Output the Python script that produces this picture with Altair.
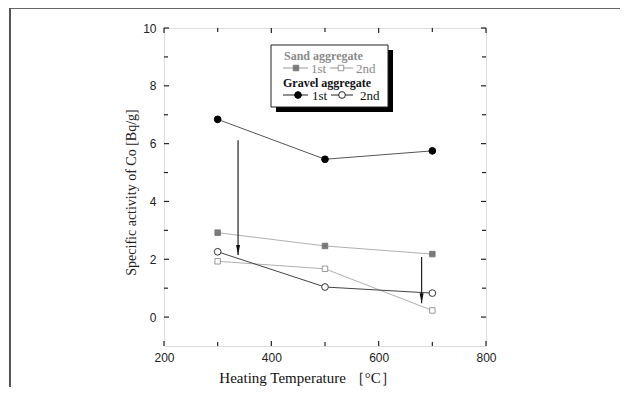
import altair as alt
import pandas as pd

# ---- data ----
temps = [300, 500, 700]
sand_1st = [2.92, 2.46, 2.18]
sand_2nd = [1.93, 1.67, 0.23]
gravel_1st = [6.84, 5.46, 5.75]
gravel_2nd = [2.26, 1.04, 0.83]

arrow_x = [338, 680]
arrow_top = [6.12, 2.08]
arrow_tip = [2.15, 0.48]

x_major = [200, 400, 600, 800]
x_minor = [300, 500, 700]
y_major = [0, 2, 4, 6, 8, 10]
y_minor = [1, 3, 5, 7, 9]

W, H = 322, 318
SERIF = "Liberation Serif"
SANS = "Liberation Sans"

xs = alt.Scale(domain=[200, 800], nice=False, zero=False)
ys = alt.Scale(domain=[-1, 10], nice=False, zero=False)


def series_df(vals):
    return pd.DataFrame({"t": temps, "v": vals})


def line_layer(vals, color):
    return alt.Chart(series_df(vals)).mark_line(color=color, strokeWidth=1).encode(
        x=alt.X("t:Q", scale=xs), y=alt.Y("v:Q", scale=ys))


def pt_layer(vals, shape, size, fill, stroke, filled):
    return alt.Chart(series_df(vals)).mark_point(
        shape=shape, size=size, filled=filled, fill=fill, stroke=stroke,
        strokeWidth=1, opacity=1).encode(
        x=alt.X("t:Q", scale=xs), y=alt.Y("v:Q", scale=ys))


# base with axes
base = alt.Chart(series_df(gravel_1st)).mark_point(opacity=0).encode(
    x=alt.X("t:Q", scale=xs, axis=alt.Axis(
        values=x_major, ticks=False, domain=False, grid=False, labelPadding=6,
        labelFlush=False,
        labelFont=SANS, labelFontSize=12, labelColor="#222",
        title="Heating Temperature ［°C］", titleFont=SERIF, titleFontSize=15,
        titleFontWeight="normal", titleColor="#111", titleX=143, titleY=36,
        titleBaseline="alphabetic", titleAlign="center")),
    y=alt.Y("v:Q", scale=ys, axis=alt.Axis(
        values=y_major, ticks=False, domain=False, grid=False, labelPadding=8,
        labelFlush=False,
        labelFont=SANS, labelFontSize=12, labelColor="#222",
        title="Specific activity of Co [Bq/g]", titleFont=SERIF, titleFontSize=14,
        titleFontWeight="normal", titleColor="#222", titleX=-29, titleY=164,
        titleBaseline="alphabetic", titleAlign="center", titleAngle=-90)),
)

# inward ticks
def xticks(vals, length):
    d = pd.DataFrame({"t": vals})
    b = alt.Chart(d).mark_rule(color="#222", strokeWidth=1.2).encode(
        x=alt.X("t:Q", scale=xs), y=alt.value(H), y2=alt.value(H - length))
    tp = alt.Chart(d).mark_rule(color="#222", strokeWidth=1.2).encode(
        x=alt.X("t:Q", scale=xs), y=alt.value(0), y2=alt.value(length))
    return b + tp


def yticks(vals, length):
    d = pd.DataFrame({"v": vals})
    l = alt.Chart(d).mark_rule(color="#222", strokeWidth=1.2).encode(
        y=alt.Y("v:Q", scale=ys), x=alt.value(0), x2=alt.value(length))
    r = alt.Chart(d).mark_rule(color="#222", strokeWidth=1.2).encode(
        y=alt.Y("v:Q", scale=ys), x=alt.value(W), x2=alt.value(W - length))
    return l + r


ticks = xticks(x_major, 5) + xticks(x_minor, 4) + yticks(y_major, 5) + yticks(y_minor, 4)

# series
lines = (line_layer(sand_1st, "#b0b0b0") + line_layer(sand_2nd, "#b0b0b0")
         + line_layer(gravel_1st, "#555555") + line_layer(gravel_2nd, "#444444"))
points = (pt_layer(sand_1st, "square", 30, "#7a7a7a", "#7a7a7a", True)
          + pt_layer(sand_2nd, "square", 30, "white", "#999999", False)
          + pt_layer(gravel_1st, "circle", 45, "black", "black", True)
          + pt_layer(gravel_2nd, "circle", 45, "white", "#333333", False))

# arrows
adf = pd.DataFrame({"x": arrow_x, "y1": arrow_top, "y2": arrow_tip})
shaft = alt.Chart(adf).mark_rule(color="#222", strokeWidth=1.2).encode(
    x=alt.X("x:Q", scale=xs), y=alt.Y("y1:Q", scale=ys), y2="y2:Q")
head = alt.Chart(adf).mark_point(
    shape="M-0.4,-1L0.4,-1L0,1Z", size=100, filled=True, color="#111", opacity=1,
    yOffset=-5).encode(x=alt.X("x:Q", scale=xs), y=alt.Y("y2:Q", scale=ys))

# outer frame lines (decoration)
frame_top = alt.Chart().mark_rule(color="#333", strokeWidth=1.5).encode(
    x=alt.value(-154), x2=alt.value(W + 150), y=alt.value(-20))
frame_left = alt.Chart().mark_rule(color="#555", strokeWidth=2).encode(
    x=alt.value(-154), y=alt.value(-20), y2=alt.value(H + 45))

# legend (decoration)
shadow = alt.Chart().mark_rect(color="black").encode(
    x=alt.value(112), x2=alt.value(229), y=alt.value(22), y2=alt.value(84))
box = alt.Chart().mark_rect(fill="white", stroke="#222", strokeWidth=1).encode(
    x=alt.value(107), x2=alt.value(224), y=alt.value(17), y2=alt.value(79))


def ltext(txt, x, y, color, bold, size=12):
    return alt.Chart().mark_text(text=txt, align="left", baseline="middle",
                                 font=SERIF, fontSize=size,
                                 fontWeight="bold" if bold else "normal",
                                 color=color).encode(x=alt.value(x), y=alt.value(y))


def lline(x1, x2, y, color):
    return alt.Chart().mark_rule(color=color, strokeWidth=1).encode(
        x=alt.value(x1), x2=alt.value(x2), y=alt.value(y))


def lpt(x, y, shape, size, fill, stroke, filled):
    return alt.Chart().mark_point(shape=shape, size=size, filled=filled, fill=fill,
                                  stroke=stroke, opacity=1, strokeWidth=1).encode(
        x=alt.value(x), y=alt.value(y))


legend = (shadow + box
          + ltext("Sand aggregate", 120, 28, "#8a8a8a", True)
          + lline(119, 144, 40, "#999") + lpt(132, 40, "square", 30, "#7a7a7a", "#7a7a7a", True)
          + ltext("1st", 147, 41, "#8a8a8a", False, 13)
          + lline(166, 189, 40, "#999") + lpt(177, 40, "square", 30, "white", "#999", False)
          + ltext("2nd", 192, 41, "#8a8a8a", False, 13)
          + ltext("Gravel aggregate", 119, 55, "#111", True)
          + lline(119, 144, 67, "#222") + lpt(134, 67, "circle", 45, "black", "black", True)
          + ltext("1st", 148, 68, "#111", False, 13)
          + lline(167, 189, 67, "#222") + lpt(178, 67, "circle", 45, "white", "#222", False)
          + ltext("2nd", 196, 68, "#111", False, 13))

chart = alt.layer(base, frame_top, frame_left, ticks, lines, points, shaft, head, legend).properties(
    width=W, height=H,
    autosize=alt.AutoSizeParams(type="none"),
    padding={"left": 156, "top": 20, "right": 134, "bottom": 41},
).configure_view(stroke="#222", strokeWidth=1.5).configure(background="white")

chart.save("out.html", embed_options={"renderer": "svg", "actions": False})
